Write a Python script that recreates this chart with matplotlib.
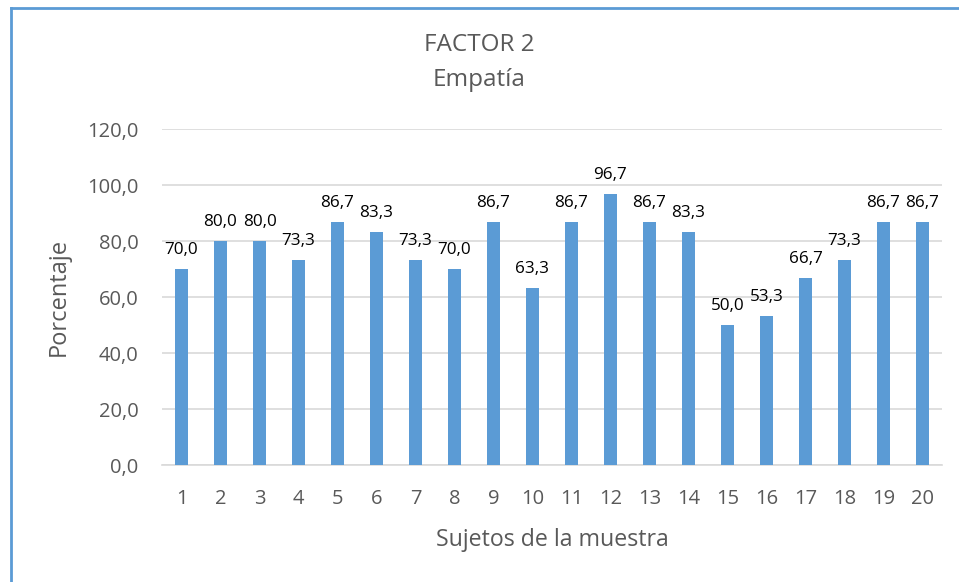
import numpy as np
import matplotlib.pyplot as plt
from matplotlib.lines import Line2D

plt.rcParams['font.family'] = ['Open Sans', 'DejaVu Sans']

sujetos = [str(i) for i in range(1, 21)]
porcentaje = [70.0, 80.0, 80.0, 73.3, 86.7, 83.3, 73.3, 70.0, 86.7, 63.3,
              86.7, 96.7, 86.7, 83.3, 50.0, 53.3, 66.7, 73.3, 86.7, 86.7]
yticks = [0, 20, 40, 60, 80, 100, 120]

gris = '#595959'
azul = '#5B9BD5'

fig = plt.figure(figsize=(9.59, 5.82), dpi=100)
ax = fig.add_axes([162 / 959, 1 - 465 / 582, 780 / 959, 336 / 582])

x = np.arange(len(sujetos))
ax.bar(x, porcentaje, width=0.31, color=azul, zorder=3)
for xi, v in zip(x, porcentaje):
    ax.text(xi, v + 4, f'{v:.1f}'.replace('.', ','), ha='center', va='bottom',
            fontsize=12.3, color='black')

ax.set_xlim(-0.5, len(sujetos) - 0.5)
ax.set_ylim(0, 120)
ax.set_yticks(yticks)
ax.set_yticklabels([f'{t:.1f}'.replace('.', ',') for t in yticks])
ax.set_xticks(x)
ax.set_xticklabels(sujetos)
ax.tick_params(axis='both', length=0, labelsize=14.5, labelcolor=gris)
ax.tick_params(axis='x', pad=17)
ax.tick_params(axis='y', pad=17)
ax.grid(axis='y', color='#D9D9D9', linewidth=1.2, zorder=0)
for s in ['top', 'right', 'left']:
    ax.spines[s].set_visible(False)
ax.spines['bottom'].set_color('#D9D9D9')
ax.spines['bottom'].set_linewidth(1.2)

ax.set_xlabel('Sujetos de la muestra', fontsize=16.7, color=gris, labelpad=14)
ax.set_ylabel('Porcentaje', fontsize=17, color=gris, labelpad=12)

fig.text(0.5, 1 - 45 / 582, 'FACTOR 2', ha='center', va='center', fontsize=17.5, color=gris)
fig.text(0.5, 1 - 80 / 582, 'Empatía', ha='center', va='center', fontsize=17.5, color=gris)

# borde del gráfico (solo izquierda y arriba visibles)
fig.add_artist(Line2D([11 / 959, 11 / 959], [0, 1 - 8 / 582], color=azul, linewidth=2))
fig.add_artist(Line2D([11 / 959, 1], [1 - 8 / 582, 1 - 8 / 582], color=azul, linewidth=2))

fig.savefig('out.png', dpi=100)
